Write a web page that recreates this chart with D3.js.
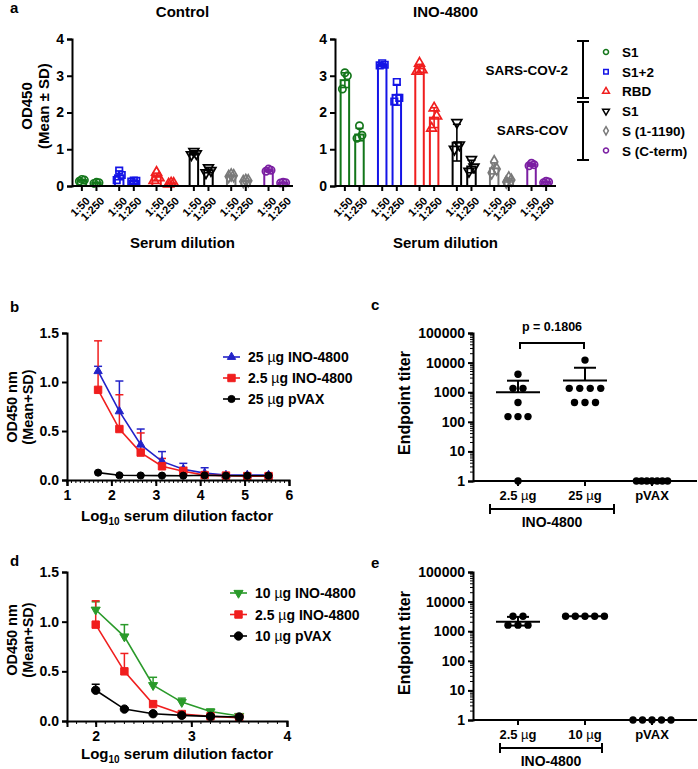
<!DOCTYPE html>
<html><head><meta charset="utf-8">
<script src="https://cdn.jsdelivr.net/npm/d3@7"></script>
<style>
body{margin:0;background:#fff}
text{font-family:"Liberation Sans",Arial,Helvetica,sans-serif;font-weight:bold;fill:#000}
</style>
</head><body>
<svg id="fig" width="698" height="769"></svg>
<script>
// ---------------- DATA ----------------
// Panel a
const antigens = ["S1", "S1+2", "RBD", "S1", "S (1-1190)", "S (C-term)"];
const antigenColors = ["#13761a", "#1414e6", "#f01e1e", "#000000", "#7a7a7a", "#7b1fa2"];
const antigenShapes = ["circle", "square", "triangle", "itriangle", "diamond", "circle"];
const dilutions = ["1:50", "1:250"];
const controlMeans = [[0.16, 0.09], [0.29, 0.14], [0.25, 0.07], [0.89, 0.43], [0.28, 0.14], [0.43, 0.09]];
const controlSDs   = [[0.02, 0.01], [0.12, 0.02], [0.10, 0.01], [0.04, 0.07], [0.02, 0.01], [0.03, 0.01]];
const controlPoints = [
  [[0.13, 0.16, 0.18], [0.07, 0.09, 0.10]],
  [[0.16, 0.30, 0.42], [0.12, 0.14, 0.15]],
  [[0.15, 0.22, 0.37], [0.05, 0.07, 0.08]],
  [[0.85, 0.88, 0.94], [0.36, 0.42, 0.50]],
  [[0.26, 0.28, 0.30], [0.12, 0.14, 0.15]],
  [[0.40, 0.43, 0.46], [0.08, 0.09, 0.10]]
];
const inoMeans = [[2.88, 1.40], [3.31, 2.48], [3.20, 1.86], [1.18, 0.53], [0.48, 0.16], [0.58, 0.11]];
const inoSDs   = [[0.20, 0.17], [0.03, 0.28], [0.11, 0.27], [0.50, 0.17], [0.15, 0.05], [0.04, 0.02]];
const inoPoints = [
  [[2.64, 3.00, 3.08], [1.30, 1.38, 1.64]],
  [[3.28, 3.30, 3.34], [2.30, 2.40, 2.83]],
  [[3.12, 3.16, 3.34], [1.57, 1.90, 2.12]],
  [[1.00, 1.12, 1.73], [0.40, 0.52, 0.72]],
  [[0.36, 0.46, 0.66], [0.11, 0.16, 0.22]],
  [[0.55, 0.58, 0.62], [0.09, 0.11, 0.13]]
];
const aYTicks = [0, 1, 2, 3, 4];

// Panel b
const bX = [1.70, 2.18, 2.66, 3.14, 3.62, 4.10, 4.58, 5.06, 5.54];
const bSeriesNames = ["25 \u00b5g INO-4800", "2.5 \u00b5g INO-4800", "25 \u00b5g pVAX"];
const bMeans = [
  [1.11, 0.70, 0.36, 0.19, 0.11, 0.07, 0.05, 0.05, 0.05],
  [0.92, 0.52, 0.28, 0.14, 0.09, 0.05, 0.045, 0.04, 0.04],
  [0.075, 0.048, 0.046, 0.045, 0.044, 0.048, 0.044, 0.044, 0.044]
];
const bSDs = [
  [0.05, 0.31, 0.16, 0.10, 0.06, 0.055, 0.01, 0.01, 0.01],
  [0.50, 0.35, 0.20, 0.08, 0.04, 0.02, 0.01, 0.01, 0.01],
  [0.005, 0.004, 0.004, 0.004, 0.004, 0.004, 0.004, 0.004, 0.004]
];
const bXTicks = [1, 2, 3, 4, 5, 6];
const bYTicks = [0, 0.5, 1.0, 1.5];

// Panel d
const dX = [2.0, 2.3, 2.6, 2.9, 3.2, 3.5];
const dSeriesNames = ["10 \u00b5g INO-4800", "2.5 \u00b5g INO-4800", "10 \u00b5g pVAX"];
const dMeans = [
  [1.12, 0.85, 0.36, 0.19, 0.095, 0.05],
  [0.97, 0.50, 0.17, 0.07, 0.047, 0.033],
  [0.31, 0.12, 0.073, 0.057, 0.047, 0.04]
];
const dSDs = [
  [0.08, 0.12, 0.08, 0.04, 0.025, 0.01],
  [0.24, 0.18, 0.03, 0.01, 0.01, 0.005],
  [0.06, 0.01, 0.01, 0.03, 0.01, 0.01]
];
const dXTicks = [2, 3, 4];
const dYTicks = [0, 0.5, 1.0, 1.5];

// Panel c
const cGroups = ["2.5 \u00b5g", "25 \u00b5g", "pVAX"];
const cPoints = [
  [4050, 1350, 1350, 450, 150, 150, 150, 1],
  [12150, 1350, 1350, 1350, 1350, 450, 450, 450],
  [1, 1, 1, 1, 1, 1, 1]
];
const cMeanValues = [1000, 2500, null];
const cUpperValues = [2450, 6700, null];
const cLowerValues = [null, null, null];
const cPText = "p = 0.1806";

// Panel e
const eGroups = ["2.5 \u00b5g", "10 \u00b5g", "pVAX"];
const ePoints = [
  [3200, 3200, 1600, 1600, 1600],
  [3200, 3200, 3200, 3200, 3200],
  [1, 1, 1, 1, 1]
];
const eMeanValues = [2100, 3200, null];
const eUpperValues = [3050, null, null];
const eLowerValues = [1550, null, null];
const logTicks = [1, 10, 100, 1000, 10000, 100000];

// ---------------- DRAWING ----------------
const svg = d3.select("#fig");
svg.append("rect").attr("width", 698).attr("height", 769).attr("fill", "#fff");

function symbolPath(shape, size) {
  const map = {circle: d3.symbolCircle, square: d3.symbolSquare, triangle: d3.symbolTriangle,
               itriangle: d3.symbolTriangle, diamond: d3.symbolDiamond};
  return d3.symbol().type(map[shape]).size(size)();
}
function addSymbol(g, shape, x, y, size, color, filled, sw) {
  g.append("path").attr("d", symbolPath(shape, size))
    .attr("transform", `translate(${x},${y})` + (shape === "itriangle" ? " rotate(180)" : ""))
    .attr("fill", filled ? color : "none").attr("stroke", color).attr("stroke-width", sw || 1.5);
}
function styleAxis(g, fs) {
  g.selectAll("path.domain").attr("stroke", "#000").attr("stroke-width", 2);
  g.selectAll(".tick line").attr("stroke", "#000").attr("stroke-width", 2);
  g.selectAll(".tick text").attr("font-size", fs || 13).attr("font-weight", "bold")
    .attr("font-family", '"Liberation Sans",Arial,sans-serif').attr("fill", "#000");
}
function label(x, y, txt, size, anchor, rot, weight) {
  const t = svg.append("text").attr("x", x).attr("y", y).attr("font-size", size)
    .attr("text-anchor", anchor || "middle").text(txt);
  if (weight) t.attr("font-weight", weight);
  if (rot) t.attr("transform", `rotate(${rot},${x},${y})`);
  return t;
}
function muText(sel, s) {
  const parts = s.split("\u00b5");
  sel.text(null);
  parts.forEach((p, i) => {
    if (i > 0) sel.append("tspan").attr("font-weight", "normal").text("\u00b5");
    sel.append("tspan").text(p);
  });
}

// ---- Panel a ----
function barPanel(x0, x1, title, means, sds, pts) {
  const y = d3.scaleLinear().domain([0, 4]).range([186, 39]);
  const xg = d3.scalePoint().domain(d3.range(antigens.length)).range([x0, x1]).padding(0.46);
  const off = 7.3, bw = 8.5;
  const jit = [-2.5, 2.5, 0];
  const g = svg.append("g");
  antigens.forEach((a, i) => {
    dilutions.forEach((dl, j) => {
      const cx = xg(i) + (j === 0 ? -off : off);
      const col = antigenColors[i];
      g.append("rect").attr("x", cx - bw / 2).attr("y", y(means[i][j]))
        .attr("width", bw).attr("height", y(0) - y(means[i][j]))
        .attr("fill", "#fff").attr("stroke", col).attr("stroke-width", 2);
      const lo = y(means[i][j] - sds[i][j]), hi = y(means[i][j] + sds[i][j]);
      g.append("line").attr("x1", cx).attr("x2", cx).attr("y1", lo).attr("y2", hi).attr("stroke", col).attr("stroke-width", 1.6);
      [lo, hi].forEach(yy => g.append("line").attr("x1", cx - 4).attr("x2", cx + 4).attr("y1", yy).attr("y2", yy).attr("stroke", col).attr("stroke-width", 1.6));
      pts[i][j].forEach((v, k) => addSymbol(g, antigenShapes[i], cx + jit[k], y(v), 42, col, false, 1.7));
      svg.append("line").attr("x1", cx).attr("x2", cx).attr("y1", 186).attr("y2", 191).attr("stroke", "#000").attr("stroke-width", 2);
      label(cx + 3, 196, dl, 11, "end", -45).attr("dominant-baseline", "hanging")
        .attr("transform", `rotate(-45,${cx + 3},${196})`);
    });
  });
  const ay = svg.append("g").attr("transform", `translate(${x0},0)`)
    .call(d3.axisLeft(y).tickValues(aYTicks).tickSize(5).tickPadding(3).tickFormat(d3.format("d")));
  styleAxis(ay, 14);
  svg.append("line").attr("x1", x0).attr("x2", x1).attr("y1", 186).attr("y2", 186).attr("stroke", "#000").attr("stroke-width", 2);
  label((x0 + x1) / 2, 17, title, 15);
  label((x0 + x1) / 2, 248, "Serum dilution", 15);
}
barPanel(72, 293, "Control", controlMeans, controlSDs, controlPoints);
barPanel(335, 556, "INO-4800", inoMeans, inoSDs, inoPoints);
label(10, 13, "a", 15, "start");
label(32, 106, "OD450", 15, "middle", -90);
label(49, 106, "(Mean \u00b1 SD)", 15, "middle", -90);

// Legend panel a
(function () {
  const lx = 583;
  const seg = (x1, y1, x2, y2) => svg.append("line").attr("x1", x1).attr("x2", x2).attr("y1", y1).attr("y2", y2).attr("stroke", "#000").attr("stroke-width", 2);
  seg(lx, 41, lx, 98); seg(lx, 102, lx, 160);
  seg(lx - 6, 41, lx + 6, 41); seg(lx - 6, 98, lx + 6, 98);
  seg(lx - 6, 102, lx + 6, 102); seg(lx - 6, 160, lx + 6, 160);
  label(568, 75, "SARS-COV-2", 13.5, "end");
  label(568, 135, "SARS-COV", 13.5, "end");
  antigens.forEach((a, i) => {
    const yy = 52 + i * 19.7;
    addSymbol(svg, antigenShapes[i], 606, yy, 20, antigenColors[i], false, 1.5);
    label(622, yy + 5, a, 13.5, "start");
  });
})();

// ---- Line panels b, d ----
function linePanel(cfg) {
  const x = d3.scaleLinear().domain(cfg.xd).range(cfg.xr);
  const y = d3.scaleLinear().domain([0, 1.5]).range(cfg.yr);
  const g = svg.append("g");
  const minor = d3.range(Math.ceil(cfg.xd[0] * 10), Math.floor(cfg.xd[1] * 10) + 1).map(v => v / 10);
  minor.forEach(v => g.append("line").attr("x1", x(v)).attr("x2", x(v)).attr("y1", cfg.yr[0]).attr("y2", cfg.yr[0] + 3).attr("stroke", "#000").attr("stroke-width", 1));
  const ax = svg.append("g").attr("transform", `translate(0,${cfg.yr[0]})`)
    .call(d3.axisBottom(x).tickValues(cfg.xt).tickSize(6).tickPadding(4).tickFormat(d3.format("d")));
  styleAxis(ax, 14);
  const ay = svg.append("g").attr("transform", `translate(${cfg.xr[0]},0)`)
    .call(d3.axisLeft(y).tickValues(cfg.yt).tickSize(5).tickPadding(3).tickFormat(d3.format(".1f")));
  styleAxis(ay, 14);
  cfg.means.forEach((ser, si) => {
    const col = cfg.colors[si];
    ser.forEach((m, k) => {
      const xx = x(cfg.xs[k]), top = y(m + cfg.sds[si][k]);
      g.append("line").attr("x1", xx).attr("x2", xx).attr("y1", y(m)).attr("y2", top).attr("stroke", col).attr("stroke-width", 1.5);
      g.append("line").attr("x1", xx - 4).attr("x2", xx + 4).attr("y1", top).attr("y2", top).attr("stroke", col).attr("stroke-width", 1.5);
    });
  });
  cfg.means.forEach((ser, si) => {
    const col = cfg.colors[si];
    g.append("path").datum(ser).attr("fill", "none").attr("stroke", col).attr("stroke-width", 1.6)
      .attr("d", d3.line().x((d, k) => x(cfg.xs[k])).y(d => y(d)));
    ser.forEach((m, k) => addSymbol(g, cfg.shapes[si], x(cfg.xs[k]), y(m), cfg.sizes[si], col, true, 1));
  });
  cfg.names.forEach((n, si) => {
    const yy = cfg.legY + si * cfg.legDy;
    svg.append("line").attr("x1", cfg.legX).attr("x2", cfg.legX + 17).attr("y1", yy).attr("y2", yy).attr("stroke", cfg.colors[si]).attr("stroke-width", 1.6);
    addSymbol(svg, cfg.shapes[si], cfg.legX + 8.5, yy, cfg.sizes[si], cfg.colors[si], true, 1);
    muText(label(cfg.legX + 25, yy + 5, "", 14, "start"), n);
  });
  const t = label(cfg.xLabX, cfg.xLabY, "", 15);
  t.append("tspan").text("Log");
  t.append("tspan").attr("font-size", 10).attr("dy", 4).text("10");
  t.append("tspan").attr("dy", -4).text(" serum dilution factor");
  label(cfg.yLabX, cfg.yLabY, "OD450 nm", 14.5, "middle", -90);
  label(cfg.yLabX + 16, cfg.yLabY, "(Mean+SD)", 14.5, "middle", -90);
}
linePanel({
  xd: [1, 6], xr: [67, 289], yr: [480, 333], xt: bXTicks, yt: bYTicks, xs: bX,
  means: bMeans, sds: bSDs, colors: ["#2323c8", "#f01e1e", "#000000"],
  shapes: ["triangle", "square", "circle"], sizes: [30, 55, 40], names: bSeriesNames,
  legX: 223, legY: 357, legDy: 21, xLabX: 177, xLabY: 521, yLabX: 17, yLabY: 407
});
label(10, 312, "b", 15, "start");
linePanel({
  xd: [1.7, 4], xr: [67, 287], yr: [721, 572], xt: dXTicks, yt: dYTicks, xs: dX,
  means: dMeans, sds: dSDs, colors: ["#2a9a2a", "#f01e1e", "#000000"],
  shapes: ["itriangle", "square", "circle"], sizes: [36, 55, 55], names: dSeriesNames,
  legX: 230, legY: 593, legDy: 21.5, xLabX: 177, xLabY: 759, yLabX: 17, yLabY: 640
});
label(10, 566, "d", 15, "start");

// ---- Scatter panels c, e ----
function scatterPanel(cfg) {
  const y = d3.scaleLog().domain([1, 1e5]).range(cfg.yr);
  const x = d3.scalePoint().domain(cfg.groups).range([518, cfg.pvaxX]);
  const g = svg.append("g");
  for (let e = 0; e < 5; e++) for (let m = 2; m <= 9; m++) {
    const yy = y(m * Math.pow(10, e));
    g.append("line").attr("x1", 473 - 3).attr("x2", 473).attr("y1", yy).attr("y2", yy).attr("stroke", "#000").attr("stroke-width", 1);
  }
  const ay = svg.append("g").attr("transform", "translate(473,0)")
    .call(d3.axisLeft(y).tickValues(logTicks).tickSize(5).tickPadding(3).tickFormat(d3.format("d")));
  styleAxis(ay, 14);
  svg.append("line").attr("x1", 473).attr("x2", 697).attr("y1", cfg.yr[0]).attr("y2", cfg.yr[0]).attr("stroke", "#000").attr("stroke-width", 2);
  cfg.groups.forEach((gr, gi) => {
    const cx = x(gr);
    svg.append("line").attr("x1", cx).attr("x2", cx).attr("y1", cfg.yr[0]).attr("y2", cfg.yr[0] + 5).attr("stroke", "#000").attr("stroke-width", 2);
    muText(label(cx, cfg.yr[0] + 19, "", 13), gr);
    const sp = cfg.spacing[gi];
    const byVal = d3.group(cfg.points[gi], d => d);
    byVal.forEach((arr, v) => {
      arr.forEach((d, k) => {
        const dx = (k - (arr.length - 1) / 2) * sp;
        g.append("circle").attr("cx", cx + dx).attr("cy", y(v)).attr("r", 3.7).attr("fill", "#000");
      });
    });
    if (cfg.means[gi] != null) {
      const my = y(cfg.means[gi]);
      g.append("line").attr("x1", cx - 22).attr("x2", cx + 22).attr("y1", my).attr("y2", my).attr("stroke", "#000").attr("stroke-width", 2);
      [cfg.upper[gi], cfg.lower[gi]].forEach(v => {
        if (v == null) return;
        const yy = y(v);
        g.append("line").attr("x1", cx).attr("x2", cx).attr("y1", my).attr("y2", yy).attr("stroke", "#000").attr("stroke-width", 2);
        g.append("line").attr("x1", cx - 11).attr("x2", cx + 11).attr("y1", yy).attr("y2", yy).attr("stroke", "#000").attr("stroke-width", 2);
      });
    }
  });
  const by = cfg.brY;
  const s = (x1, y1, x2, y2) => svg.append("line").attr("x1", x1).attr("x2", x2).attr("y1", y1).attr("y2", y2).attr("stroke", "#000").attr("stroke-width", 2);
  s(cfg.brX[0], by, cfg.brX[1], by); s(cfg.brX[0], by - 5, cfg.brX[0], by + 5); s(cfg.brX[1], by - 5, cfg.brX[1], by + 5);
  label((cfg.brX[0] + cfg.brX[1]) / 2, by + 18, "INO-4800", 14);
  label(cfg.yLabX, cfg.yLabY, "Endpoint titer", 16, "middle", -90);
  return x;
}
const xc = scatterPanel({
  groups: cGroups, points: cPoints, means: cMeanValues, upper: cUpperValues, lower: cLowerValues,
  yr: [481, 333], pvaxX: 652, spacing: [10, 10.5, 5.2], brY: 509, brX: [490, 614], yLabX: 410, yLabY: 403
});
label(371, 310, "c", 15, "start");
(function () {
  const x1 = xc(cGroups[0]) + 2, x2 = xc(cGroups[1]) - 1, yb = 343;
  svg.append("path").attr("d", `M${x1},${yb + 6}V${yb}H${x2}V${yb + 6}`).attr("fill", "none").attr("stroke", "#000").attr("stroke-width", 2);
  label((x1 + x2) / 2, 331, cPText, 12.5, "middle", null, "normal");
})();
scatterPanel({
  groups: eGroups, points: ePoints, means: eMeanValues, upper: eUpperValues, lower: eLowerValues,
  yr: [720, 572], pvaxX: 652, spacing: [10, 9.7, 9.5], brY: 748, brX: [500, 602], yLabX: 410, yLabY: 643
});
label(371, 568, "e", 15, "start");
</script>
</body></html>
